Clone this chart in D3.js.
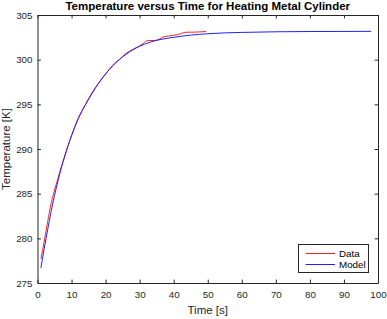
<!DOCTYPE html>
<html>
<head>
<meta charset="utf-8">
<script src="https://cdn.jsdelivr.net/npm/d3@7"></script>
<style>
html,body{margin:0;padding:0;background:#fff;}
svg{display:block;font-family:"Liberation Sans",Arial,Helvetica,sans-serif;}
</style>
</head>
<body>
<svg id="chart" width="387" height="319"></svg>
<script>
// ---- data ----
const modelTime = [1, 2, 3, 4, 5, 6, 7, 8, 9, 10, 12, 14, 16, 18, 20, 22, 24, 26, 28, 30, 33, 36, 40, 45, 50, 55, 60, 70, 80, 90, 98];
const modelTemp = [276.7, 278.9, 281.0, 283.0, 284.8, 286.4, 287.9, 289.2, 290.4, 291.5, 293.4, 294.9, 296.2, 297.4, 298.4, 299.3, 300.0, 300.6, 301.1, 301.5, 301.95, 302.25, 302.5, 302.75, 302.9, 303.0, 303.05, 303.12, 303.15, 303.16, 303.17];
const dataTime = [1, 2, 3, 4, 5, 6, 7, 8, 9, 10, 12, 14, 16, 18, 20, 22, 24, 26, 28, 30, 31, 32, 33, 34.5, 35.5, 37, 38.5, 40, 42, 43.5, 46, 49.5];
const dataTemp = [277.7, 279.7, 281.9, 283.9, 285.4, 286.7, 288.0, 289.2, 290.4, 291.5, 293.5, 294.9, 296.3, 297.4, 298.4, 299.3, 300.0, 300.7, 301.15, 301.55, 301.8, 302.1, 302.15, 302.15, 302.25, 302.55, 302.65, 302.72, 302.9, 303.07, 303.08, 303.15];
const xTicks = [0, 10, 20, 30, 40, 50, 60, 70, 80, 90, 100];
const yTicks = [275, 280, 285, 290, 295, 300, 305];
const seriesNames = ["Data", "Model"];
const titleText = "Temperature versus Time for Heating Metal Cylinder";
const xLabelText = "Time [s]";
const yLabelText = "Temperature [K]";

// ---- layout ----
const L = 37.5, R = 378, T = 15, B = 283;
const axisColor = "#262626";
const svg = d3.select("#chart");
const x = d3.scaleLinear().domain([0, 100]).range([L, R]);
const y = d3.scaleLinear().domain([275, 305]).range([B, T]);

// axes
const tickLen = 3.4;
const gx = svg.append("g").attr("transform", `translate(0,${B})`)
  .call(d3.axisBottom(x).tickValues(xTicks).tickSizeInner(-tickLen).tickSizeOuter(0).tickPadding(8));
const gxTop = svg.append("g").attr("transform", `translate(0,${T})`)
  .call(d3.axisTop(x).tickValues(xTicks).tickSizeInner(-tickLen).tickSizeOuter(0).tickFormat(""));
const gy = svg.append("g").attr("transform", `translate(${L},0)`)
  .call(d3.axisLeft(y).tickValues(yTicks).tickSizeInner(-tickLen).tickSizeOuter(0).tickPadding(5));
const gyR = svg.append("g").attr("transform", `translate(${R},0)`)
  .call(d3.axisRight(y).tickValues(yTicks).tickSizeInner(-tickLen).tickSizeOuter(0).tickFormat(""));
[gx, gxTop, gy, gyR].forEach(g => {
  g.selectAll("path.domain").attr("stroke", axisColor).attr("stroke-width", 1);
  g.selectAll("line").attr("stroke", axisColor).attr("stroke-width", 1);
  g.selectAll("text").attr("fill", axisColor).style("font-size", "9.8px")
    .style("font-family", '"Liberation Sans",Arial,sans-serif');
});

// lines
const line = d3.line().x(d => x(d[0])).y(d => y(d[1]));
const dataPts = dataTime.map((t, i) => [t, dataTemp[i]]);
const modelPts = modelTime.map((t, i) => [t, modelTemp[i]]);
svg.append("path").datum(dataPts).attr("d", line.curve(d3.curveMonotoneX))
  .attr("fill", "none").attr("stroke", "#ff2020").attr("stroke-width", 1);
svg.append("path").datum(modelPts).attr("d", line.curve(d3.curveMonotoneX))
  .attr("fill", "none").attr("stroke", "#2020ff").attr("stroke-width", 1);

// title & labels
svg.append("text").attr("x", (L + R) / 2).attr("y", 10).attr("text-anchor", "middle")
  .style("font-size", "11.5px").style("font-weight", "bold").attr("fill", "#000").text(titleText);
svg.append("text").attr("x", (L + R) / 2).attr("y", 314).attr("text-anchor", "middle")
  .style("font-size", "11.5px").attr("fill", axisColor).text(xLabelText);
svg.append("text").attr("transform", `translate(9.5,${(T + B) / 2}) rotate(-90)`).attr("text-anchor", "middle")
  .style("font-size", "11.5px").attr("fill", axisColor).text(yLabelText);

// legend
const lg = svg.append("g");
lg.append("rect").attr("x", 298.5).attr("y", 244.5).attr("width", 70).attr("height", 28)
  .attr("fill", "#fff").attr("stroke", axisColor).attr("stroke-width", 1);
const colors = ["#ff2020", "#2020ff"];
seriesNames.forEach((n, i) => {
  const cy = 253.5 + i * 11;
  lg.append("line").attr("x1", 305.5).attr("x2", 335).attr("y1", cy).attr("y2", cy)
    .attr("stroke", colors[i]).attr("stroke-width", 1);
  lg.append("text").attr("x", 339).attr("y", cy + 3.3).style("font-size", "9.8px")
    .attr("fill", "#000").text(n);
});
</script>
</body>
</html>
